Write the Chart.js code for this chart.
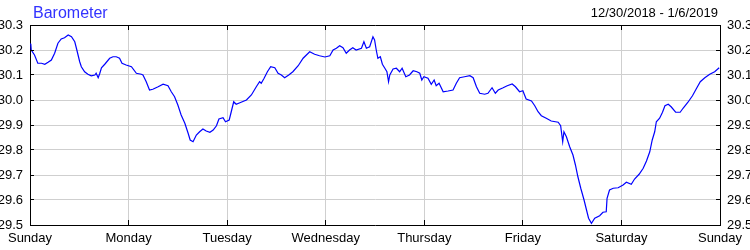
<!DOCTYPE html>
<html>
<head>
<meta charset="utf-8">
<script src="https://cdn.jsdelivr.net/npm/chart.js@4/dist/chart.umd.min.js"></script>
<style>
  html, body { margin: 0; padding: 0; background: #fff; }
  #wrap { width: 750px; height: 250px; }
</style>
</head>
<body>
<div id="wrap"><canvas id="baro" width="750" height="250"></canvas></div>
<script>
// week of 12/30/2018 - 1/6/2019, hours since Sunday 00:00
const hours = [
  0, 0.2, 0.3, 1.1, 1.9, 2.8, 3.6, 4.4, 5.2, 6.0,
  6.8, 7.6, 8.4, 9.3, 10.1, 10.9, 11.3, 11.7, 12.1, 12.5,
  13.3, 14.1, 14.9, 15.8, 16.1, 16.6, 17.0, 17.4, 18.2, 19.4,
  20.2, 21.0, 21.8, 22.4, 23.4, 24.7, 25.9, 27.1, 27.5, 28.3,
  29.1, 29.9, 31.2, 32.4, 33.6, 34.4, 35.2, 36.0, 36.8, 37.7,
  38.5, 39.0, 39.7, 40.5, 41.3, 42.1, 42.9, 43.8, 44.6, 45.4,
  46.0, 47.0, 47.6, 48.5, 49.0, 49.6, 50.2, 51.4, 52.7, 53.9,
  55.1, 55.9, 56.3, 57.0, 57.8, 58.6, 59.6, 60.4, 61.2, 62.0,
  63.0, 64.0, 65.3, 66.5, 67.3, 68.1, 69.3, 70.5, 71.8, 73.0,
  73.8, 74.6, 75.4, 76.2, 77.0, 77.8, 78.6, 79.4, 80.7, 81.3,
  81.9, 82.7, 83.5, 83.9, 84.3, 84.7, 85.3, 85.8, 86.4, 86.9,
  87.3, 87.6, 88.4, 89.2, 90.0, 90.6, 91.5, 92.4, 93.3, 94.2,
  94.9, 95.4, 95.9, 96.9, 97.7, 98.4, 98.9, 99.6, 100.6, 101.8,
  103.0, 103.8, 104.6, 105.8, 107.1, 107.9, 108.7, 109.5, 110.7, 111.5,
  112.5, 113.3, 114.0, 115.2, 116.2, 117.4, 118.2, 119.2, 120.0, 120.8,
  122.1, 122.9, 123.7, 124.5, 125.7, 126.9, 128.6, 129.2, 129.7, 130.0,
  130.6, 131.4, 132.2, 132.8, 133.4, 134.1, 134.9, 135.5, 136.0, 136.7,
  137.5, 138.7, 139.5, 140.3, 140.5, 141.1, 142.0, 143.2, 144.4, 145.2,
  146.4, 147.2, 148.3, 149.3, 150.1, 150.9, 151.5, 152.1, 152.5, 153.3,
  154.0, 154.6, 155.4, 156.1, 157.2, 158.3, 159.0, 160.2, 161.3, 162.2,
  163.2, 164.3, 165.5, 166.7, 167.8
];
const pressure = [
  30.225, 30.223, 30.200, 30.180, 30.147, 30.147, 30.143, 30.151, 30.160, 30.187,
  30.227, 30.244, 30.249, 30.260, 30.253, 30.233, 30.207, 30.180, 30.153, 30.133,
  30.113, 30.103, 30.097, 30.100, 30.107, 30.089, 30.107, 30.129, 30.143, 30.167,
  30.173, 30.173, 30.167, 30.147, 30.140, 30.133, 30.107, 30.103, 30.100, 30.073,
  30.040, 30.043, 30.053, 30.063, 30.057, 30.033, 30.013, 29.980, 29.940, 29.907,
  29.867, 29.840, 29.833, 29.860, 29.873, 29.884, 29.876, 29.871, 29.880, 29.897,
  29.924, 29.929, 29.913, 29.920, 29.953, 29.993, 29.983, 29.991, 30.000, 30.020,
  30.053, 30.073, 30.067, 30.087, 30.113, 30.133, 30.129, 30.107, 30.100, 30.089,
  30.100, 30.113, 30.137, 30.167, 30.180, 30.193, 30.183, 30.177, 30.172, 30.177,
  30.200, 30.207, 30.217, 30.209, 30.187, 30.200, 30.209, 30.200, 30.207, 30.233,
  30.207, 30.213, 30.253, 30.240, 30.200, 30.167, 30.173, 30.143, 30.127, 30.113,
  30.073, 30.100, 30.124, 30.127, 30.113, 30.127, 30.093, 30.100, 30.117, 30.113,
  30.107, 30.080, 30.093, 30.087, 30.063, 30.080, 30.057, 30.067, 30.033, 30.036,
  30.040, 30.067, 30.089, 30.093, 30.097, 30.089, 30.053, 30.027, 30.023, 30.027,
  30.049, 30.027, 30.040, 30.049, 30.057, 30.064, 30.053, 30.033, 30.037, 30.004,
  29.996, 29.977, 29.953, 29.937, 29.927, 29.916, 29.911, 29.897, 29.833, 29.873,
  29.853, 29.813, 29.780, 29.740, 29.693, 29.647, 29.600, 29.560, 29.527, 29.507,
  29.527, 29.537, 29.551, 29.553, 29.607, 29.640, 29.647, 29.649, 29.660, 29.671,
  29.663, 29.684, 29.703, 29.727, 29.756, 29.793, 29.840, 29.873, 29.913, 29.927,
  29.951, 29.977, 29.983, 29.973, 29.951, 29.951, 29.967, 29.991, 30.017, 30.044,
  30.073, 30.089, 30.103, 30.113, 30.129
];
const dayTicks = [0, 24, 48, 72, 96, 120, 144, 168];
const dayLabels = ['Sunday', 'Monday', 'Tuesday', 'Wednesday', 'Thursday', 'Friday', 'Saturday', 'Sunday'];
const yTicks = [29.5, 29.6, 29.7, 29.8, 29.9, 30.0, 30.1, 30.2, 30.3];
const chartTitle = 'Barometer';
const dateRange = '12/30/2018 - 1/6/2019';

const FONT = '"Liberation Sans", Arial, sans-serif';
const GRID = '#cfcfcf';

function crisp(p) {
  return Math.round(p - 0.5) + 0.5;
}

// small inward tick marks + the two header texts
const frameExtras = {
  id: 'frameExtras',
  afterDraw(chart) {
    const ctx = chart.ctx;
    const { left, right, top, bottom } = chart.chartArea;
    const sx = chart.scales.x, sy = chart.scales.y;
    ctx.save();
    ctx.strokeStyle = '#000';
    ctx.lineWidth = 1;
    ctx.beginPath();
    dayTicks.forEach(v => {
      const px = crisp(sx.getPixelForValue(v));
      ctx.moveTo(px, top); ctx.lineTo(px, top + 5);
      ctx.moveTo(px, bottom); ctx.lineTo(px, bottom - 5);
    });
    yTicks.forEach(v => {
      const py = crisp(sy.getPixelForValue(v));
      ctx.moveTo(left, py); ctx.lineTo(left + 4, py);
      ctx.moveTo(right, py); ctx.lineTo(right - 4, py);
    });
    ctx.stroke();

    ctx.textBaseline = 'alphabetic';
    ctx.font = '16px ' + FONT;
    ctx.fillStyle = '#3232ff';
    ctx.textAlign = 'left';
    ctx.fillText(chartTitle, 33, 18);
    ctx.font = '13px ' + FONT;
    ctx.fillStyle = '#000';
    ctx.textAlign = 'right';
    ctx.fillText(dateRange, 718, 17);
    ctx.restore();
  }
};

const dayAxis = (pos) => ({
  type: 'linear',
  position: pos,
  min: 0,
  max: 168,
  afterBuildTicks: s => { s.ticks = dayTicks.map(v => ({ value: v })); },
  afterFit: s => { s.height = 25; },
  ticks: {
    display: pos === 'bottom',
    autoSkip: false,
    maxRotation: 0,
    padding: 6,
    color: '#000',
    font: { family: FONT, size: 13 },
    callback: (v, i) => dayLabels[i]
  },
  grid: { display: pos === 'bottom', color: GRID, drawTicks: false },
  border: { display: true, color: '#000', width: 1 }
});

const pressAxis = (pos) => ({
  type: 'linear',
  position: pos,
  min: 29.5,
  max: 30.3,
  afterBuildTicks: s => { s.ticks = yTicks.map(v => ({ value: v })); },
  afterFit: s => { s.width = 30; },
  ticks: {
    padding: 7,
    color: '#000',
    font: { family: FONT, size: 13 },
    callback: v => Number(v).toFixed(1)
  },
  grid: { display: pos === 'left', color: GRID, drawTicks: false },
  border: { display: true, color: '#000', width: 1 }
});

new Chart(document.getElementById('baro'), {
  type: 'line',
  data: {
    datasets: [{
      data: hours.map((h, i) => ({ x: h, y: pressure[i] })),
      borderColor: '#0000ff',
      borderWidth: 1.2,
      pointRadius: 0,
      tension: 0,
      fill: false
    }]
  },
  options: {
    responsive: false,
    animation: false,
    layout: { padding: 0 },
    plugins: { legend: { display: false }, tooltip: { enabled: false } },
    scales: {
      x: dayAxis('bottom'),
      xTop: dayAxis('top'),
      y: pressAxis('left'),
      y2: pressAxis('right')
    }
  },
  plugins: [frameExtras]
});
</script>
</body>
</html>
